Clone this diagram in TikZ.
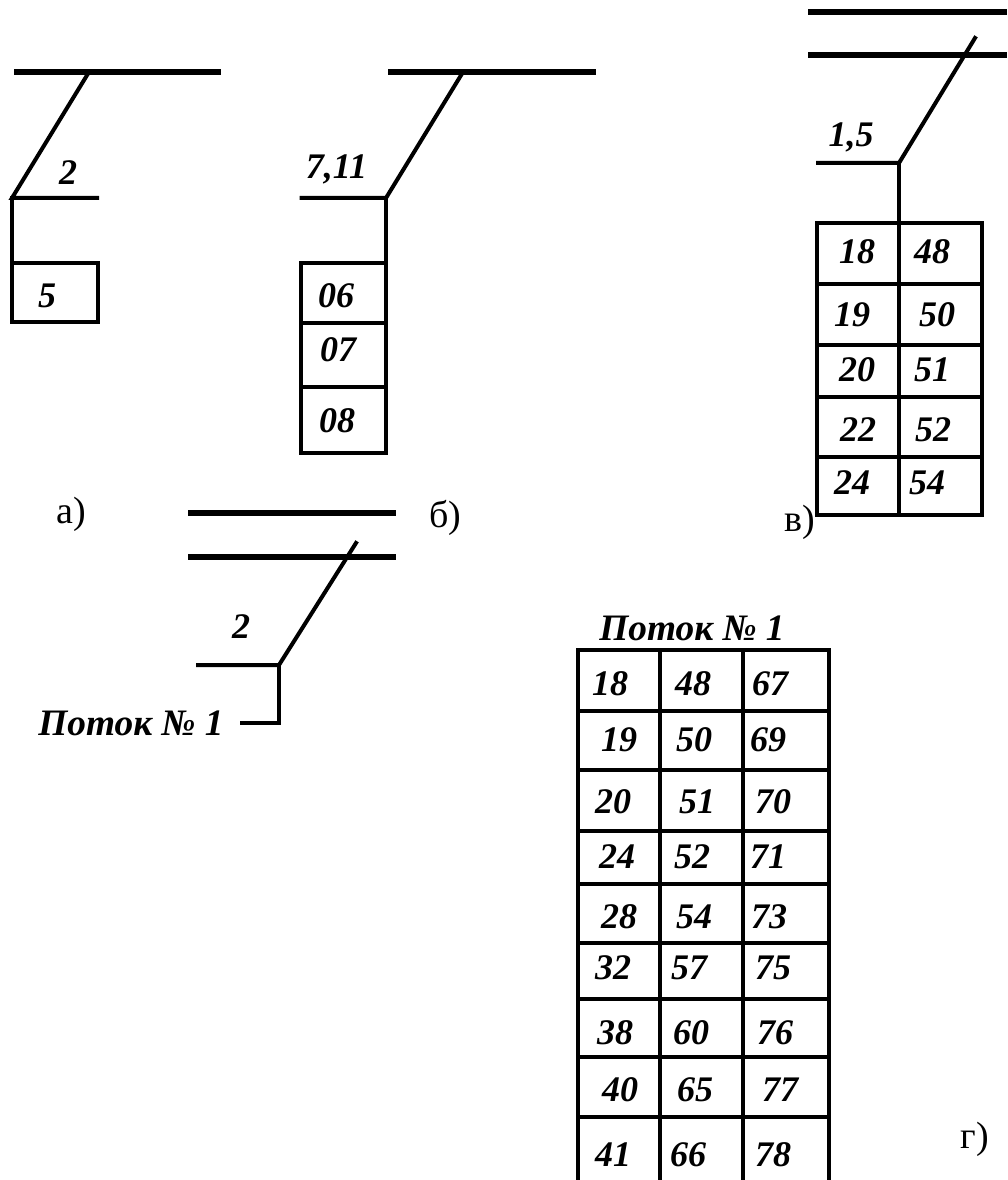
\documentclass[tikz,border=0pt]{standalone}
\usepackage{fontspec}
\setmainfont{Liberation Serif}
\tikzset{
  wire/.style={line width=3pt,line cap=rect},
  bus/.style={line width=5pt},
  cellnum/.style={font=\fontsize{27}{30}\selectfont\bfseries\itshape,inner sep=0pt},
  flowlabel/.style={font=\fontsize{28}{30}\selectfont\bfseries\itshape,inner sep=0pt},
  caption/.style={font=\fontsize{28.5}{30}\selectfont,inner sep=0pt},
}
\begin{document}
\begin{tikzpicture}[x=0.75pt,y=-0.75pt]
\useasboundingbox (0,0) rectangle (1007,1180);
% scheme a
\draw[bus] (14,72)--(221,72);
\draw[wire] (89,72)--(12,198)--(97,198);
\draw[wire] (12,198)--(12,322)--(98,322)--(98,263)--(12,263);
\node[cellnum] (a2) at (68,173) {2};
\node[cellnum] (a5) at (47,296) {5};
\node[caption] (capa) at (71,514) {а)};
% scheme b
\draw[bus] (388,72)--(596,72);
\draw[wire] (463,72)--(386,198)--(301.5,198);
\draw[wire] (386,198)--(386,453)--(301,453)--(301,263)--(386,263);
\foreach \y in {323,387} \draw[wire] (301,\y)--(386,\y);
\node[cellnum] (b711) at (336.5,169) {7,11};
\node[cellnum] (b06) at (336,296) {06};
\node[cellnum] (b07) at (338,350) {07};
\node[cellnum] (b08) at (337,421) {08};
\node[caption] (capb) at (445,518) {б)};
% scheme v
\foreach \y in {12,55} \draw[bus] (808,\y)--(1007,\y);
\draw[wire] (975,38)--(899,163)--(818,163);
\draw[wire] (899,163)--(899,515);
\draw[wire] (817,223)--(982,223)--(982,515)--(817,515)--cycle;
\foreach \y in {284,345,397,457} \draw[wire] (817,\y)--(982,\y);
\node[cellnum] (v15) at (851,137) {1,5};
\foreach \x/\y/\t in {857/252/18,932/252/48,852/315/19,937/315/50,857/370/20,932/370/51,858/430/22,933/430/52,852/483/24,927/483/54}
  \node[cellnum] (v\t) at (\x,\y) {\t};
\node[caption] (capv) at (800,522) {в)};
% scheme g
\foreach \y in {513,557} \draw[bus] (188,\y)--(396,\y);
\draw[wire] (356,543)--(279,665)--(198,665);
\draw[wire] (279,665)--(279,723)--(242,723);
\node[cellnum] (g2) at (241,627) {2};
\node[flowlabel] (flowleft) at (131,723) {Поток № 1};
% table
\node[flowlabel] (flowtop) at (692,628) {Поток № 1};
\foreach \x in {578,660,743,829} \draw[wire] (\x,650)--(\x,1180);
\foreach \y in {650,711,770,884,943,999,1057,1117} \draw[wire] (578,\y)--(829,\y);
\draw[wire] (578,831)--(825,831);
\foreach \x/\y/\t in {610/684/18,693/684/48,770/684/67,619/740/19,694/740/50,768/740/69,613/802/20,697/802/51,773/802/70,617/857/24,692/857/52,768/857/71,619/917/28,694/917/54,769/917/73,613/968/32,689/968/57,773/968/75,615/1033/38,691/1033/60,775/1033/76,620/1090/40,695/1090/65,780/1090/77,613/1155/41,688/1155/66,773/1155/78}
  \node[cellnum] (t\t) at (\x,\y) {\t};
\node[caption] (capg) at (975,1139) {г)};
\end{tikzpicture}
\end{document}
